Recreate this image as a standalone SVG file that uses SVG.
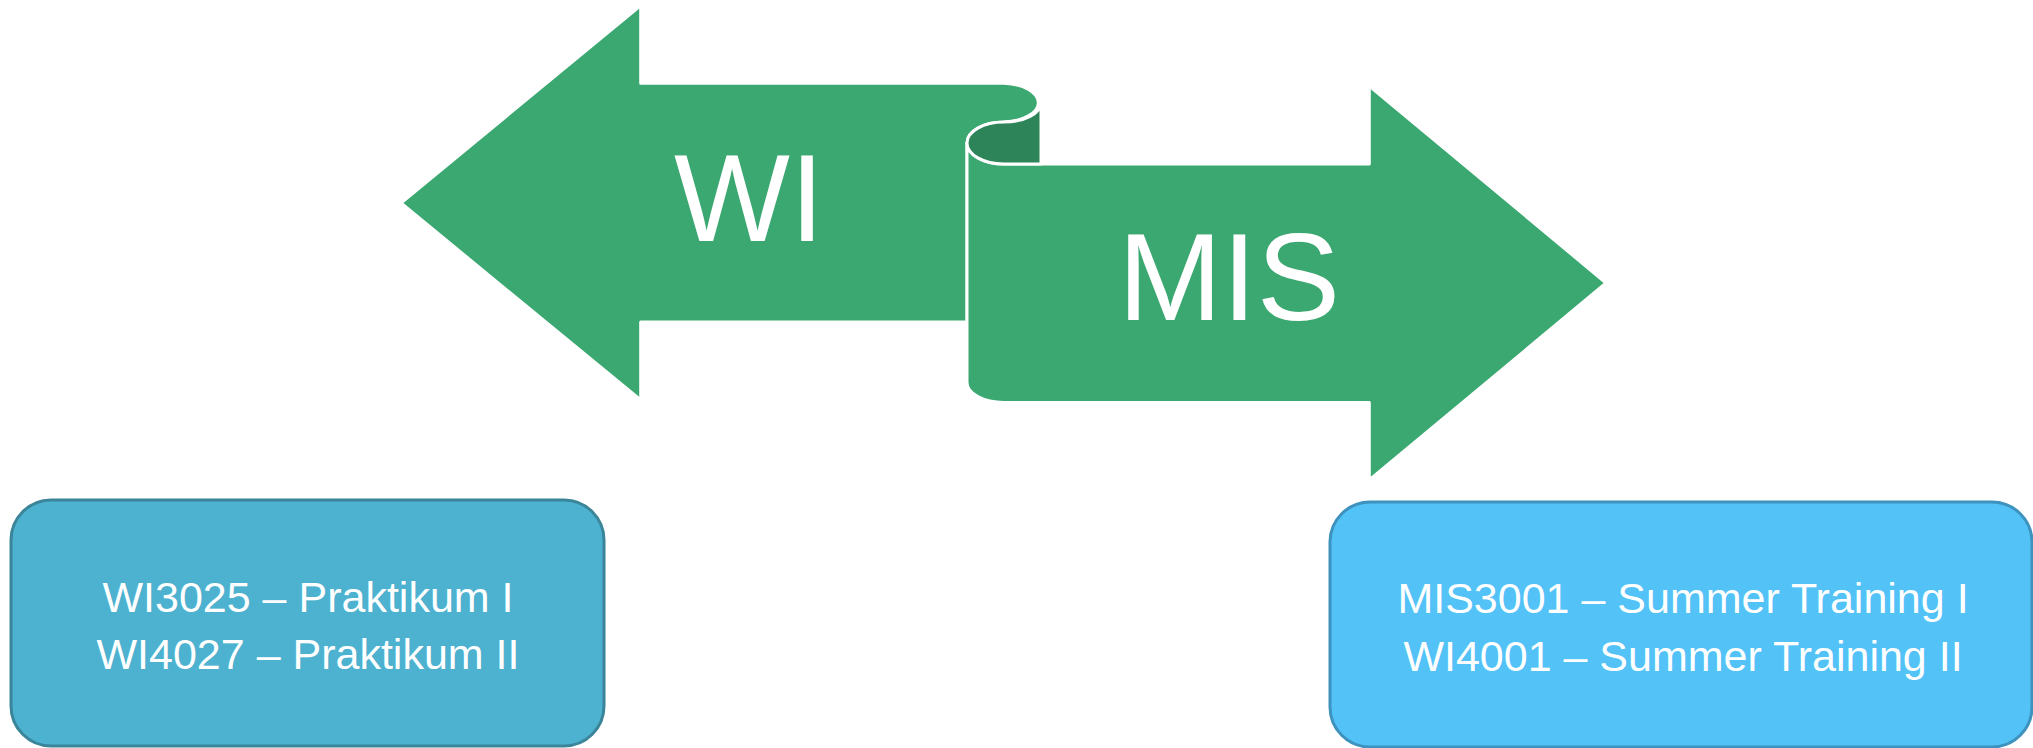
<svg xmlns="http://www.w3.org/2000/svg" width="2033" height="748" viewBox="0 0 2033 748">
<style>
.arrow{fill:#3AA870;stroke:#FFFFFF;stroke-width:3;stroke-linejoin:round}
.fold{fill:#2D8459;stroke:#FFFFFF;stroke-width:3;stroke-linejoin:round}
.big{font-family:"Liberation Sans",Arial,sans-serif;font-size:125px;fill:#FFFFFF;text-anchor:middle}
.lbl{font-family:"Liberation Sans",Arial,sans-serif;font-size:43px;fill:#FFFFFF;text-anchor:middle}
.boxA{fill:#4DB1D0;stroke:#3A8599;stroke-width:3}
.boxB{fill:#52C2F7;stroke:#3E92BE;stroke-width:3}
</style>
<rect width="2033" height="748" fill="#FFFFFF"/>
<g id="connectors"/>
<g id="wi-arrow">
<path class="arrow" d="M401,203 L640.7,5.7 V83.3 H1004 A37,19.4 0 0 1 1004,122 A37,21 0 0 0 967,143 V322 H640.7 V400 Z"/>
<text class="big" x="749" y="241" textLength="150" lengthAdjust="spacingAndGlyphs">WI</text>
</g>
<g id="mis-arrow">
<path class="arrow" d="M967,143 A37,21 0 0 0 1004,164 H1369.3 V86 L1606,283 L1369.3,480 V402.5 H1004 A37,20 0 0 1 967,382.5 Z"/>
<path class="fold" d="M1041,102.7 A37,19.4 0 0 1 1004,122 A37,21 0 0 0 967,143 A37,21 0 0 0 1004,164 H1041 Z"/>
<text class="big" x="1229" y="320">MIS</text>
</g>
<g id="wi-box">
<rect class="boxA" x="11" y="500" width="593" height="246" rx="40" ry="40"/>
<text class="lbl" x="308" y="612">WI3025 – Praktikum I</text>
<text class="lbl" x="308" y="668.5">WI4027 – Praktikum II</text>
</g>
<g id="mis-box">
<rect class="boxB" x="1330" y="502" width="702" height="245" rx="40" ry="40"/>
<text class="lbl" x="1683" y="613">MIS3001 – Summer Training I</text>
<text class="lbl" x="1683" y="671">WI4001 – Summer Training II</text>
</g>
</svg>
